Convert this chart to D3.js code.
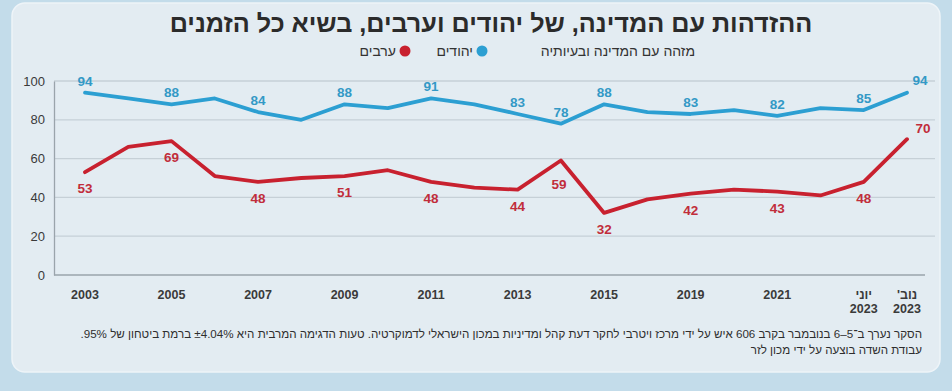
<!DOCTYPE html>
<html lang="he">
<head>
<meta charset="utf-8">
<script src="https://cdn.jsdelivr.net/npm/d3@7"></script>
<style>
  body { margin: 0; background: #c3dcea; }
  #chart { width: 952px; height: 391px; }
  text { font-family: "Liberation Sans", "DejaVu Sans", sans-serif; }
</style>
</head>
<body>
<div id="chart"></div>
<script>

// periods on the x axis (some vertices carry no label)
const periods = ["2003", "2004", "2005", "2006", "2007", "2008", "2009", "2010", "2011", "2012",
	"2013", "2014", "2015", "2017", "2019", "2020", "2021", "2022", "יוני 2023", "נוב' 2023"];

// labels printed under the axis
const tickLabels = ["2003", "2005", "2007", "2009", "2011", "2013", "2015", "2019", "2021", "יוני 2023", "נוב' 2023"];

// values
const jews  = [94, 91, 88, 91, 84, 80, 88, 86, 91, 88, 83, 78, 88, 84, 83, 85, 82, 86, 85, 94];
const arabs = [53, 66, 69, 51, 48, 50, 51, 54, 48, 45, 44, 59, 32, 39, 42, 44, 43, 41, 48, 70];

// periods whose value is written next to the line
const labelled = ["2003", "2005", "2007", "2009", "2011", "2013", "2014", "2015", "2019", "2021", "יוני 2023", "נוב' 2023"];

const yTicks = [0, 20, 40, 60, 80, 100];

const title = "ההזדהות עם המדינה, של יהודים וערבים, בשיא כל הזמנים";
const legendTitle = "מזהה עם המדינה ובעיותיה";
const seriesNames = ["יהודים", "ערבים"];
const note1 = "הסקר נערך ב־5–6 בנובמבר בקרב 606 איש על ידי מרכז ויטרבי לחקר דעת קהל ומדיניות במכון הישראלי לדמוקרטיה. טעות הדגימה המרבית היא ±4.04% ברמת ביטחון של 95%.";
const note2 = "עבודת השדה בוצעה על ידי מכון לזר";

const blue = "#2c9fd2", red = "#c8212f";
const blueText = "#3399c6", redText = "#c12d3b";

let width = 952, height = 391;

let svg = d3.select("#chart").append("svg")
	.attr("width", width)
	.attr("height", height);

// card
svg.append("rect")
	.attr("x", 12).attr("y", 3)
	.attr("width", 928).attr("height", 369)
	.attr("rx", 13)
	.attr("fill", "#e3ecf2")
	.attr("stroke", "#eef4f8")
	.attr("stroke-width", 1.5);

// title
svg.append("text")
	.attr("x", 491).attr("y", 32)
	.attr("text-anchor", "middle")
	.attr("direction", "rtl")
	.attr("font-size", 25.2)
	.attr("font-weight", "bold")
	.attr("fill", "#2b2b2b")
	.text(title);

// legend
let legend = svg.append("g").attr("class", "legend");
legend.append("text")
	.attr("x", 695).attr("y", 56)
	.attr("text-anchor", "start")
	.attr("direction", "rtl")
	.attr("font-size", 14)
	.attr("fill", "#333")
	.text(legendTitle);

[[482, blue, seriesNames[0]], [405, red, seriesNames[1]]].forEach(d => {
	legend.append("circle")
		.attr("cx", d[0]).attr("cy", 51).attr("r", 5.5)
		.attr("fill", d[1]);
	legend.append("text")
		.attr("x", d[0] - 9).attr("y", 56)
		.attr("text-anchor", "start")
		.attr("direction", "rtl")
		.attr("font-size", 14)
		.attr("fill", "#333")
		.text(d[2]);
});

// scales
let x = d3.scalePoint()
	.domain(periods)
	.range([85, 907]);

let y = d3.scaleLinear()
	.domain([0, 100])
	.range([275, 81]);

// grid
svg.append("g")
	.selectAll("line")
	.data(yTicks.filter(d => d > 0))
	.enter().append("line")
	.attr("x1", 54).attr("x2", 935)
	.attr("y1", d => y(d)).attr("y2", d => y(d))
	.attr("stroke", "#c6d0d7")
	.attr("stroke-width", 1.3);

// y axis
let yAxis = d3.axisLeft(y).tickValues(yTicks).tickSize(0).tickPadding(9);
let gy = svg.append("g")
	.attr("class", "y-axis axis")
	.attr("transform", "translate(54,0)")
	.call(yAxis);
gy.select(".domain").attr("stroke", "#9aa4ab").attr("stroke-width", 1.3);
gy.selectAll("text")
	.attr("font-size", 13)
	.attr("fill", "#3a3a3a")
	.attr("font-family", "Liberation Sans, sans-serif");

// baseline
svg.append("line")
	.attr("x1", 54).attr("x2", 925)
	.attr("y1", y(0)).attr("y2", y(0))
	.attr("stroke", "#9aa4ab")
	.attr("stroke-width", 1.3);

// x labels
let xl = svg.append("g").attr("class", "x-axis axis");
tickLabels.forEach(t => {
	let parts = t.split(" ");
	if (parts.length > 1) parts = [parts[0], parts[1]];
	parts.forEach((p, i) => {
		xl.append("text")
			.attr("x", x(t))
			.attr("y", 299 + i * 14)
			.attr("text-anchor", "middle")
			.attr("direction", /[א-ת]/.test(p) ? "rtl" : "ltr")
			.attr("font-size", 12.5)
			.attr("font-weight", "bold")
			.attr("fill", "#3a3a3a")
			.text(p);
	});
});

// lines
let line = d3.line()
	.x((d, i) => x(periods[i]))
	.y(d => y(d));

[[jews, blue], [arabs, red]].forEach(s => {
	svg.append("path")
		.datum(s[0])
		.attr("fill", "none")
		.attr("stroke", s[1])
		.attr("stroke-width", 3.8)
		.attr("stroke-linejoin", "round")
		.attr("stroke-linecap", "round")
		.attr("d", line);
});

// value labels
let last = periods[periods.length - 1];

svg.append("g")
	.selectAll("text")
	.data(periods.map((p, i) => ({p: p, v: jews[i]})).filter(d => labelled.includes(d.p)))
	.enter().append("text")
	.attr("x", d => x(d.p) + (d.p === last ? 13 : 0))
	.attr("y", d => y(d.v) - (d.p === last ? 8 : 7))
	.attr("text-anchor", "middle")
	.attr("font-size", 13.5)
	.attr("font-weight", "bold")
	.attr("fill", blueText)
	.text(d => d.v);

svg.append("g")
	.selectAll("text")
	.data(periods.map((p, i) => ({p: p, v: arabs[i]})).filter(d => labelled.includes(d.p)))
	.enter().append("text")
	.attr("x", d => x(d.p) + (d.p === last ? 16 : d.p === "2014" ? -2 : 0))
	.attr("y", d => y(d.v) + (d.p === last ? -6 : d.p === "2014" ? 28 : 21))
	.attr("text-anchor", "middle")
	.attr("font-size", 13.5)
	.attr("font-weight", "bold")
	.attr("fill", redText)
	.text(d => d.v);

// footnote
let notes = svg.append("g").attr("class", "note");
[note1, note2].forEach((n, i) => {
	notes.append("text")
		.attr("x", 922).attr("y", 338 + i * 16)
		.attr("direction", "rtl")
		.attr("text-anchor", "start")
		.attr("font-size", 11.6)
		.attr("fill", "#2e2e2e")
		.text(n);
});

</script>
</body>
</html>
